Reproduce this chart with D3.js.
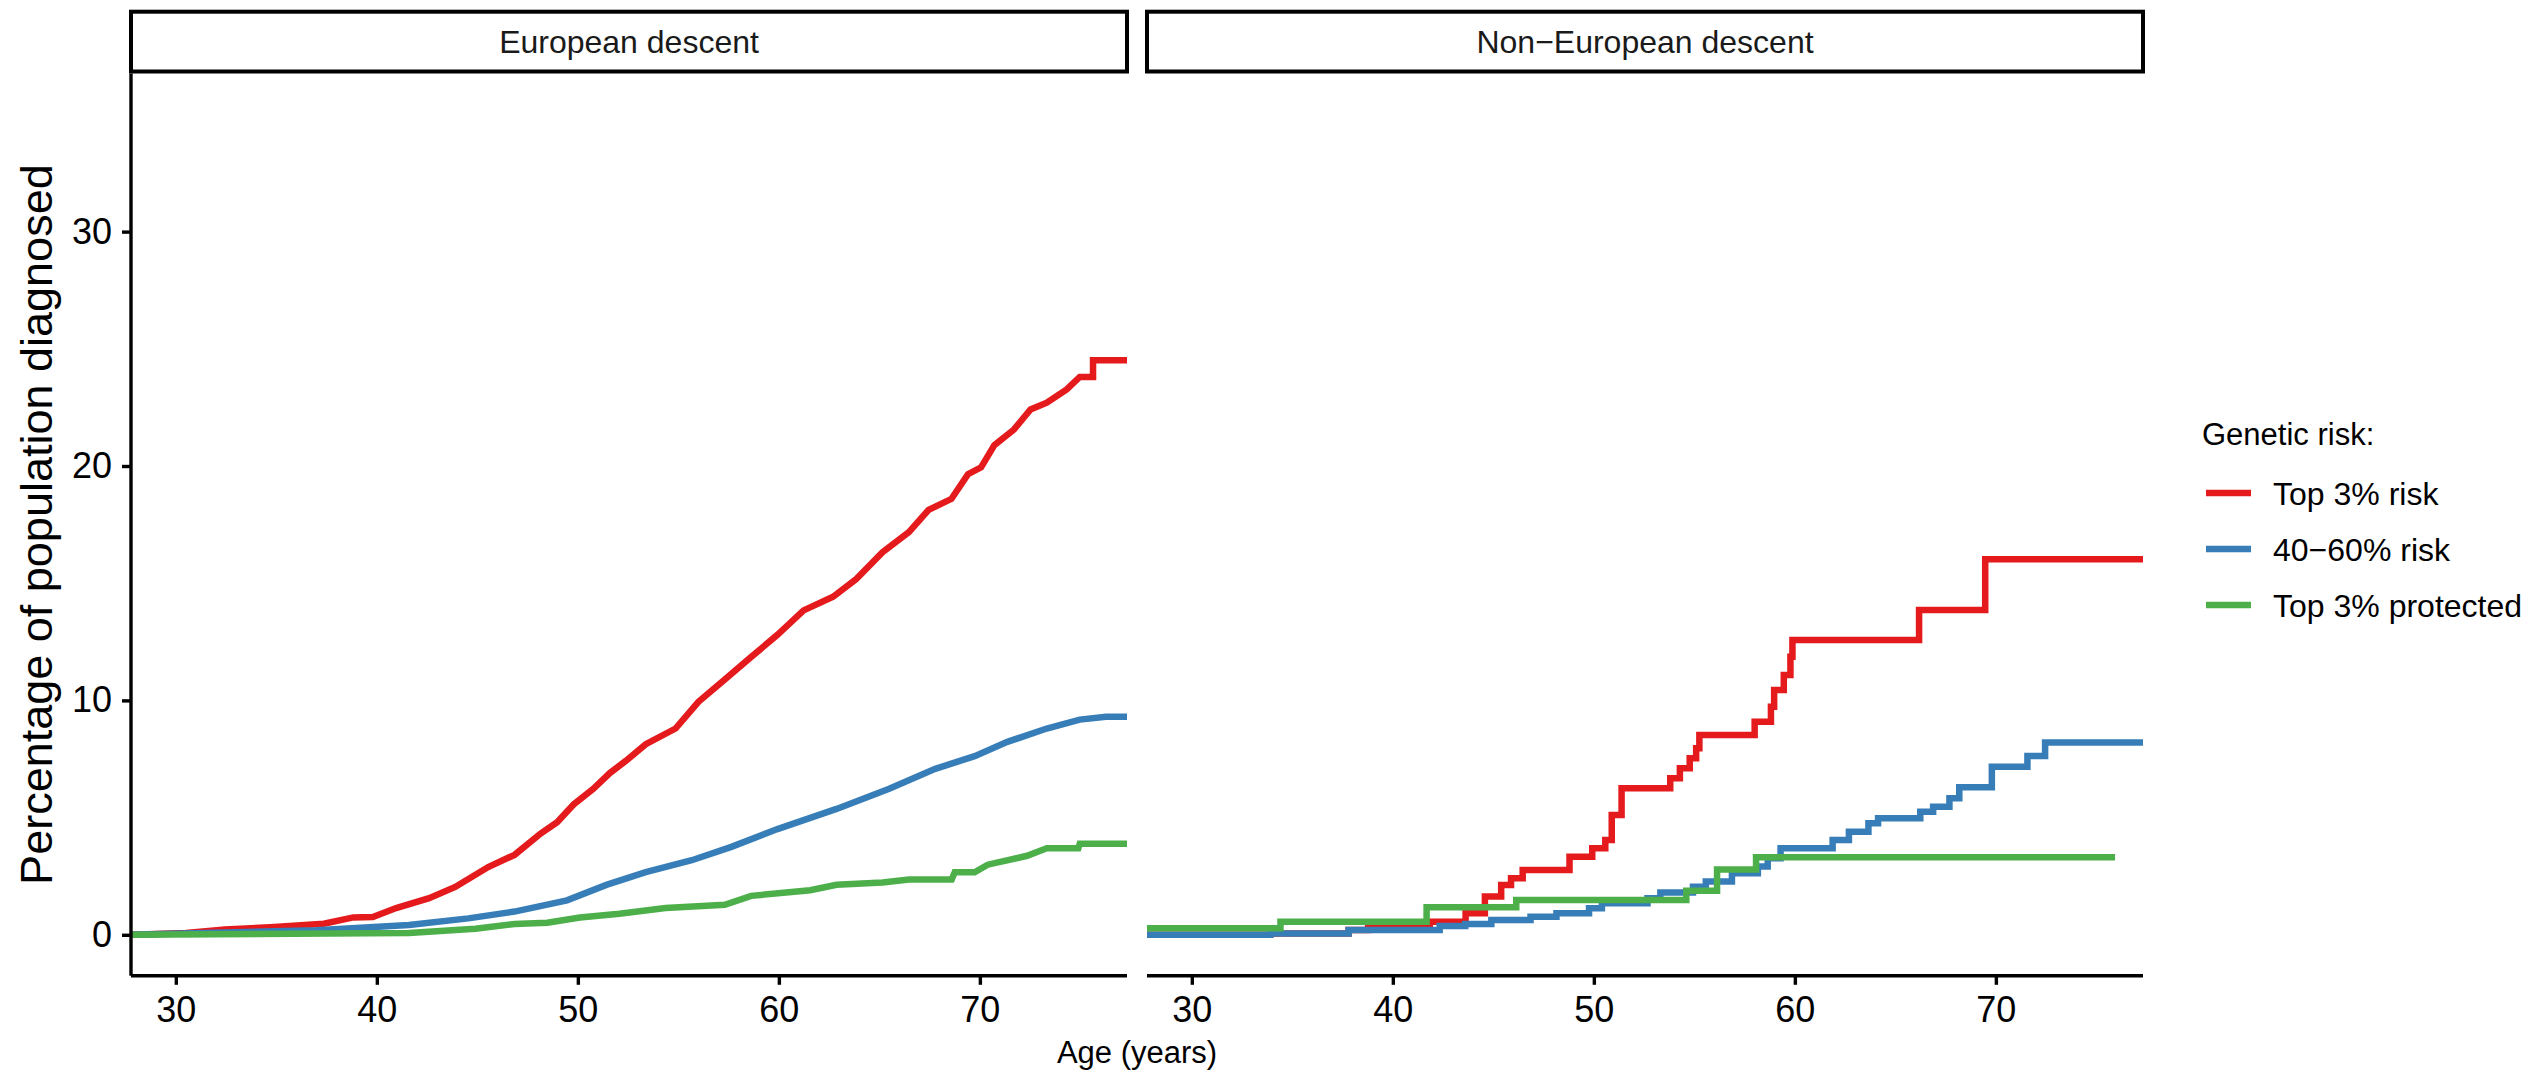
<!DOCTYPE html>
<html>
<head>
<meta charset="utf-8">
<script src="https://cdn.jsdelivr.net/npm/d3@7"></script>
<style>
  html, body { margin: 0; padding: 0; background: #ffffff; }
  svg { display: block; font-family: "Liberation Sans", Arial, Helvetica, sans-serif; }
</style>
</head>
<body>
<svg id="chart" width="2529" height="1071"></svg>
<script>
// ---------------- DATA ----------------
const panels = ["European descent", "Non\u2212European descent"];
const seriesNames = ["Top 3% risk", "40\u221260% risk", "Top 3% protected"];
const seriesColors = ["#E41A1C", "#377EB8", "#4DAF4A"];
const xTicks = [30, 40, 50, 60, 70];
const yTicks = [0, 10, 20, 30];
const xLabel = "Age (years)";
const yLabel = "Percentage of population diagnosed";
const legendTitle = "Genetic risk:";

// European descent: [age, % diagnosed]
const euTop3Risk = [[27.77,0],[30.5,0.08],[32.45,0.23],[34.7,0.32],[37.36,0.47],[38.83,0.74],[39.8,0.76],[40.96,1.14],[42.6,1.56],[43.9,2.04],[45.54,2.89],[46.85,3.41],[48.15,4.32],[48.97,4.8],[49.79,5.56],[50.77,6.23],[51.59,6.9],[52.4,7.43],[53.38,8.13],[54.86,8.8],[56.0,9.94],[57.31,10.89],[58.62,11.85],[59.93,12.8],[61.23,13.84],[62.7,14.42],[63.85,15.18],[65.16,16.32],[66.47,17.18],[67.45,18.13],[68.59,18.6],[69.41,19.65],[70.06,19.94],[70.72,20.89],[71.7,21.56],[72.52,22.41],[73.33,22.7],[74.32,23.27],[74.97,23.8],[75.63,23.8],[75.63,24.51],[77.4,24.51]];
const euMidRisk = [[27.77,0],[37.0,0.19],[41.6,0.42],[44.55,0.7],[46.85,0.99],[49.46,1.47],[51.42,2.13],[53.38,2.67],[55.67,3.18],[57.64,3.75],[59.93,4.51],[62.87,5.37],[65.49,6.23],[67.78,7.08],[69.74,7.62],[71.37,8.23],[73.33,8.8],[74.97,9.18],[76.27,9.3],[77.4,9.3]];
const euTop3Protected = [[27.77,0],[41.6,0.08],[44.9,0.26],[46.85,0.46],[48.48,0.51],[50.1,0.74],[52.07,0.9],[54.36,1.14],[57.31,1.28],[58.62,1.66],[61.56,1.9],[62.87,2.13],[65.16,2.23],[66.47,2.36],[68.6,2.36],[68.75,2.67],[69.74,2.67],[70.39,2.99],[72.35,3.37],[73.33,3.69],[74.9,3.69],[74.97,3.88],[77.4,3.88]];

// Non-European descent (step functions): [age, % diagnosed]
const nonEuTop3Risk = [[27.77,0],[33.9,0.06],[37.8,0.2],[38.77,0.35],[41.84,0.56],[43.62,0.92],[44.58,1.63],[45.39,2.12],[45.88,2.41],[46.46,2.76],[48.79,3.33],[49.92,3.69],[50.57,4.04],[50.89,5.11],[51.38,6.25],[53.8,6.68],[54.28,7.1],[54.77,7.53],[55.09,7.96],[55.25,8.52],[58.0,9.09],[58.81,9.73],[58.97,10.44],[59.45,11.08],[59.78,11.86],[59.88,12.58],[66.18,13.86],[69.47,16.02],[77.4,16.02]];
const nonEuMidRisk = [[27.77,0],[33.9,0.06],[37.8,0.2],[42.33,0.37],[43.6,0.46],[44.9,0.63],[46.85,0.77],[48.14,0.92],[49.76,1.13],[50.4,1.34],[52.67,1.56],[53.31,1.8],[54.93,2.05],[55.57,2.27],[56.87,2.62],[58.16,2.91],[58.65,3.26],[59.29,3.69],[61.88,4.04],[62.69,4.4],[63.66,4.76],[64.14,4.97],[66.24,5.25],[66.88,5.46],[67.69,5.82],[68.18,6.29],[69.8,7.17],[71.57,7.63],[72.45,8.2],[77.4,8.2]];
const nonEuTop3Protected = [[27.77,0.28],[34.41,0.56],[41.68,1.17],[46.14,1.48],[54.6,1.88],[56.13,2.79],[58.07,3.31],[75.93,3.31]];

const panelData = [
  [euTop3Risk, euMidRisk, euTop3Protected],
  [nonEuTop3Risk, nonEuMidRisk, nonEuTop3Protected]
];
const panelCurves = [d3.curveLinear, d3.curveStepAfter];

// ---------------- LAYOUT ----------------
const svg = d3.select("#chart");
const panelLeft = [131, 1147];
const panelW = 996;
const panelTop = 73.4, panelBottom = 975.8;
const stripTop = 11.7, stripBottom = 71.5;

const y = d3.scaleLinear().domain([-1.75, 36.75]).range([panelBottom, panelTop]);

const defs = svg.append("defs");

panels.forEach((name, pi) => {
  const x0 = panelLeft[pi];
  const x = d3.scaleLinear().domain([27.77, 77.32]).range([x0, x0 + panelW]);

  defs.append("clipPath").attr("id", "clip" + pi)
    .append("rect").attr("x", x0).attr("y", panelTop).attr("width", panelW).attr("height", panelBottom - panelTop);

  // strip
  svg.append("rect")
    .attr("x", x0).attr("y", stripTop)
    .attr("width", panelW).attr("height", stripBottom - stripTop)
    .attr("fill", "#ffffff").attr("stroke", "#000000").attr("stroke-width", 4);
  svg.append("text")
    .attr("x", x0 + panelW / 2).attr("y", 53)
    .attr("text-anchor", "middle")
    .attr("font-size", 32).attr("fill", "#1A1A1A")
    .text(name);

  // lines
  const g = svg.append("g").attr("clip-path", "url(#clip" + pi + ")");
  const line = d3.line().x(d => x(d[0])).y(d => y(d[1])).curve(panelCurves[pi]);
  panelData[pi].forEach((data, si) => {
    g.append("path").datum(data)
      .attr("d", line)
      .attr("fill", "none")
      .attr("stroke", seriesColors[si])
      .attr("stroke-width", 6.5)
      .attr("stroke-linejoin", "miter")
      .attr("stroke-linecap", "butt");
  });

  // x axis
  const xAxis = d3.axisBottom(x).tickValues(xTicks).tickSize(9).tickPadding(12).tickFormat(d3.format("d"));
  const gx = svg.append("g").attr("transform", `translate(0,${panelBottom})`).call(xAxis);
  gx.select(".domain").attr("d", `M${x0},0H${x0 + panelW}`).attr("stroke", "#000").attr("stroke-width", 3.4);
  gx.selectAll(".tick line").attr("stroke", "#000").attr("stroke-width", 3.4);
  gx.selectAll(".tick text").attr("font-size", 36).attr("fill", "#000")
    .attr("font-family", "'Liberation Sans', Arial, sans-serif");

  // y axis (first panel only)
  if (pi === 0) {
    const yAxis = d3.axisLeft(y).tickValues(yTicks).tickSize(9).tickPadding(10).tickFormat(d3.format("d"));
    const gy = svg.append("g").attr("transform", `translate(${x0},0)`).call(yAxis);
    gy.select(".domain").attr("d", `M0,${panelTop}V${panelBottom}`).attr("stroke", "#000").attr("stroke-width", 3.4);
    gy.selectAll(".tick line").attr("stroke", "#000").attr("stroke-width", 3.4);
    gy.selectAll(".tick text").attr("font-size", 36).attr("fill", "#000")
      .attr("font-family", "'Liberation Sans', Arial, sans-serif");
  }
});

// axis titles
svg.append("text")
  .attr("x", (panelLeft[0] + panelLeft[1] + panelW) / 2).attr("y", 1063)
  .attr("text-anchor", "middle").attr("font-size", 31).attr("fill", "#000")
  .text(xLabel);
svg.append("text")
  .attr("transform", `translate(52,${(panelTop + panelBottom) / 2}) rotate(-90)`)
  .attr("text-anchor", "middle").attr("font-size", 45).attr("fill", "#000")
  .text(yLabel);

// legend
const legend = svg.append("g");
legend.append("text").attr("x", 2202).attr("y", 445)
  .attr("font-size", 31).attr("fill", "#000").text(legendTitle);
const legendY = d3.scalePoint().domain(seriesNames).range([493, 605]);
seriesNames.forEach((s, i) => {
  const cy = legendY(s);
  legend.append("line").attr("x1", 2206).attr("x2", 2251).attr("y1", cy).attr("y2", cy)
    .attr("stroke", seriesColors[i]).attr("stroke-width", 6.5);
  legend.append("text").attr("x", 2273).attr("y", cy + 12)
    .attr("font-size", 32).attr("fill", "#000").text(s);
});
</script>
</body>
</html>
